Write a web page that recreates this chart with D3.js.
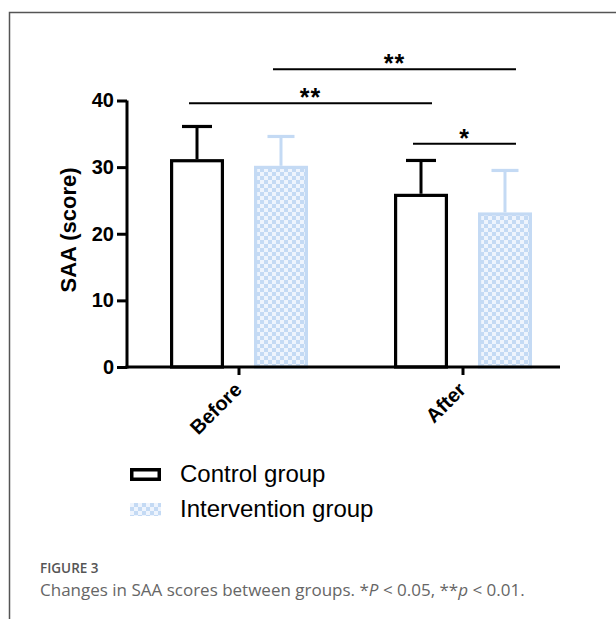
<!DOCTYPE html>
<html>
<head>
<meta charset="utf-8">
<script src="https://cdn.jsdelivr.net/npm/d3@7"></script>
<style>
  body { margin: 0; background: #fff; }
  svg { display: block; }
</style>
</head>
<body>
<div id="chart"></div>
<script>
"use strict";

// data
const timepoints = ["Before", "After"];
const groups = ["Control group", "Intervention group"];
const controlMean = [31.2, 26.0];
const controlSD = [4.9, 5.0];
const interventionMean = [30.2, 23.2];
const interventionSD = [4.4, 6.3];
const yTicks = [0, 10, 20, 30, 40];

// significance brackets: from bar, to bar, height in score units
const sigFrom = [["Before", "Intervention group"], ["Before", "Control group"], ["After", "Control group"]];
const sigTo = [["After", "Intervention group"], ["After", "Control group"], ["After", "Intervention group"]];
const sigLevel = [44.7, 39.6, 33.5];
const sigLabel = ["**", "**", "*"];

const blue = "#c4daf4";
const W = 616, H = 619;
const font = "Liberation Sans, Arial, sans-serif";

const svg = d3.select("#chart").append("svg").attr("width", W).attr("height", H);

// checker pattern for the intervention bars
const defs = svg.append("defs");
const pat = defs.append("pattern").attr("id", "checks")
    .attr("patternUnits", "userSpaceOnUse").attr("width", 8).attr("height", 8);
pat.append("rect").attr("width", 8).attr("height", 8).attr("fill", blue);
pat.append("rect").attr("width", 4).attr("height", 4).attr("fill", "#eef4fd");
pat.append("rect").attr("x", 4).attr("y", 4).attr("width", 4).attr("height", 4).attr("fill", "#eef4fd");

// frame of the figure panel
svg.append("path")
    .attr("d", "M9.5," + H + "V12.5H" + W)
    .attr("fill", "none").attr("stroke", "#555").attr("stroke-width", 1.5);

// scales
const x0 = d3.scaleBand().domain(timepoints).range([127, 575]);
const x1 = d3.scaleBand().domain(groups).range([0, x0.bandwidth()])
    .paddingInner(0.357).paddingOuter(0.512);
const y = d3.scaleLinear().domain([0, 40]).range([367, 100.5]);

const rows = [];
timepoints.forEach(function(t, i) {
  rows.push({t: t, g: groups[0], mean: controlMean[i], sd: controlSD[i]});
  rows.push({t: t, g: groups[1], mean: interventionMean[i], sd: interventionSD[i]});
});
const isCtrl = d => d.g === groups[0];
const cx = (t, g) => x0(t) + x1(g) + x1.bandwidth() / 2;

// bars
const sw = 3.2;
svg.append("g").selectAll("rect").data(rows).enter().append("rect")
    .attr("x", d => x0(d.t) + x1(d.g) + sw / 2)
    .attr("y", d => y(d.mean) + sw / 2)
    .attr("width", x1.bandwidth() - sw)
    .attr("height", d => y(0) - y(d.mean) - sw / 2)
    .attr("fill", d => isCtrl(d) ? "#fff" : "url(#checks)")
    .attr("stroke", d => isCtrl(d) ? "#000" : blue)
    .attr("stroke-width", sw);

// error bars (upper only)
const err = svg.append("g");
rows.forEach(function(d) {
  const c = cx(d.t, d.g);
  const col = isCtrl(d) ? "#000" : blue;
  const cap = isCtrl(d) ? 15 : 13.5;
  err.append("line").attr("x1", c).attr("x2", c)
      .attr("y1", y(d.mean)).attr("y2", y(d.mean + d.sd))
      .attr("stroke", col).attr("stroke-width", 3);
  err.append("line").attr("x1", c - cap).attr("x2", c + cap)
      .attr("y1", y(d.mean + d.sd)).attr("y2", y(d.mean + d.sd))
      .attr("stroke", col).attr("stroke-width", 3.2);
});

// axes
const yAxis = svg.append("g").attr("transform", "translate(127,0)")
    .call(d3.axisLeft(y).tickValues(yTicks).tickSize(10).tickSizeOuter(0).tickPadding(3));
yAxis.select(".domain").attr("stroke-width", 3).attr("d", "M0," + y(40) + "V" + (y(0) + 1.5));
yAxis.selectAll(".tick line").attr("stroke-width", 3);
yAxis.selectAll(".tick text")
    .attr("font-family", font)
    .attr("font-weight", "bold").attr("font-size", 20).attr("fill", "#000");

const xAxis = svg.append("g").attr("transform", "translate(0," + y(0) + ")")
    .call(d3.axisBottom(x0).tickSize(8).tickSizeOuter(0));
xAxis.select(".domain").attr("stroke-width", 3).attr("d", "M125.5,0H560");
xAxis.selectAll(".tick line").attr("stroke-width", 3);
xAxis.selectAll(".tick text")
    .attr("font-family", font)
    .attr("font-weight", "bold").attr("font-size", 20).attr("fill", "#000")
    .attr("text-anchor", "end")
    .attr("transform", "translate(4,24) rotate(-45)")
    .attr("y", 0).attr("dy", 0);

// y axis title
svg.append("text")
    .attr("transform", "translate(76," + 230 + ") rotate(-90)")
    .attr("text-anchor", "middle")
    .attr("font-family", font)
    .attr("font-weight", "bold").attr("font-size", 22)
    .text("SAA (score)");

// significance brackets
const sig = svg.append("g");
sigLabel.forEach(function(lab, i) {
  const xa = cx(sigFrom[i][0], sigFrom[i][1]) - 8;
  const xb = cx(sigTo[i][0], sigTo[i][1]) + 11;
  sig.append("line").attr("x1", xa).attr("x2", xb)
      .attr("y1", y(sigLevel[i])).attr("y2", y(sigLevel[i]))
      .attr("stroke", "#000").attr("stroke-width", 2);
  sig.append("text")
      .attr("x", (xa + xb) / 2).attr("y", y(sigLevel[i]) + 3)
      .attr("text-anchor", "middle")
      .attr("font-family", font).attr("font-weight", "bold")
      .attr("font-size", 25).attr("letter-spacing", 1)
      .text(lab);
});

// legend
const legend = svg.append("g").attr("transform", "translate(130,468)");
groups.forEach(function(g, i) {
  const row = legend.append("g").attr("transform", "translate(0," + (i * 35) + ")");
  if (i === 0) {
    row.append("rect").attr("x", 1.75).attr("y", 1.75).attr("width", 27.5).attr("height", 9.5)
        .attr("fill", "#fff").attr("stroke", "#000").attr("stroke-width", 3.5);
  } else {
    row.append("rect").attr("x", 0).attr("y", 0).attr("width", 31).attr("height", 13)
        .attr("fill", "url(#checks)");
  }
  row.append("text").attr("x", 50).attr("y", 14)
      .attr("font-family", font)
      .attr("font-size", 24)
      .text(g);
});

// caption
svg.append("text").attr("x", 40).attr("y", 573)
    .attr("font-family", "Open Sans, sans-serif").attr("font-weight", 600)
    .attr("font-size", 13.5).attr("fill", "#555")
    .text("FIGURE 3");
const cap = svg.append("text").attr("x", 40).attr("y", 596)
    .attr("font-family", "Open Sans, sans-serif")
    .attr("font-size", 17).attr("fill", "#666");
cap.append("tspan").text("Changes in SAA scores between groups. *");
cap.append("tspan").attr("font-style", "italic").text("P");
cap.append("tspan").text(" < 0.05, **");
cap.append("tspan").attr("font-style", "italic").text("p");
cap.append("tspan").text(" < 0.01.");
</script>
</body>
</html>
